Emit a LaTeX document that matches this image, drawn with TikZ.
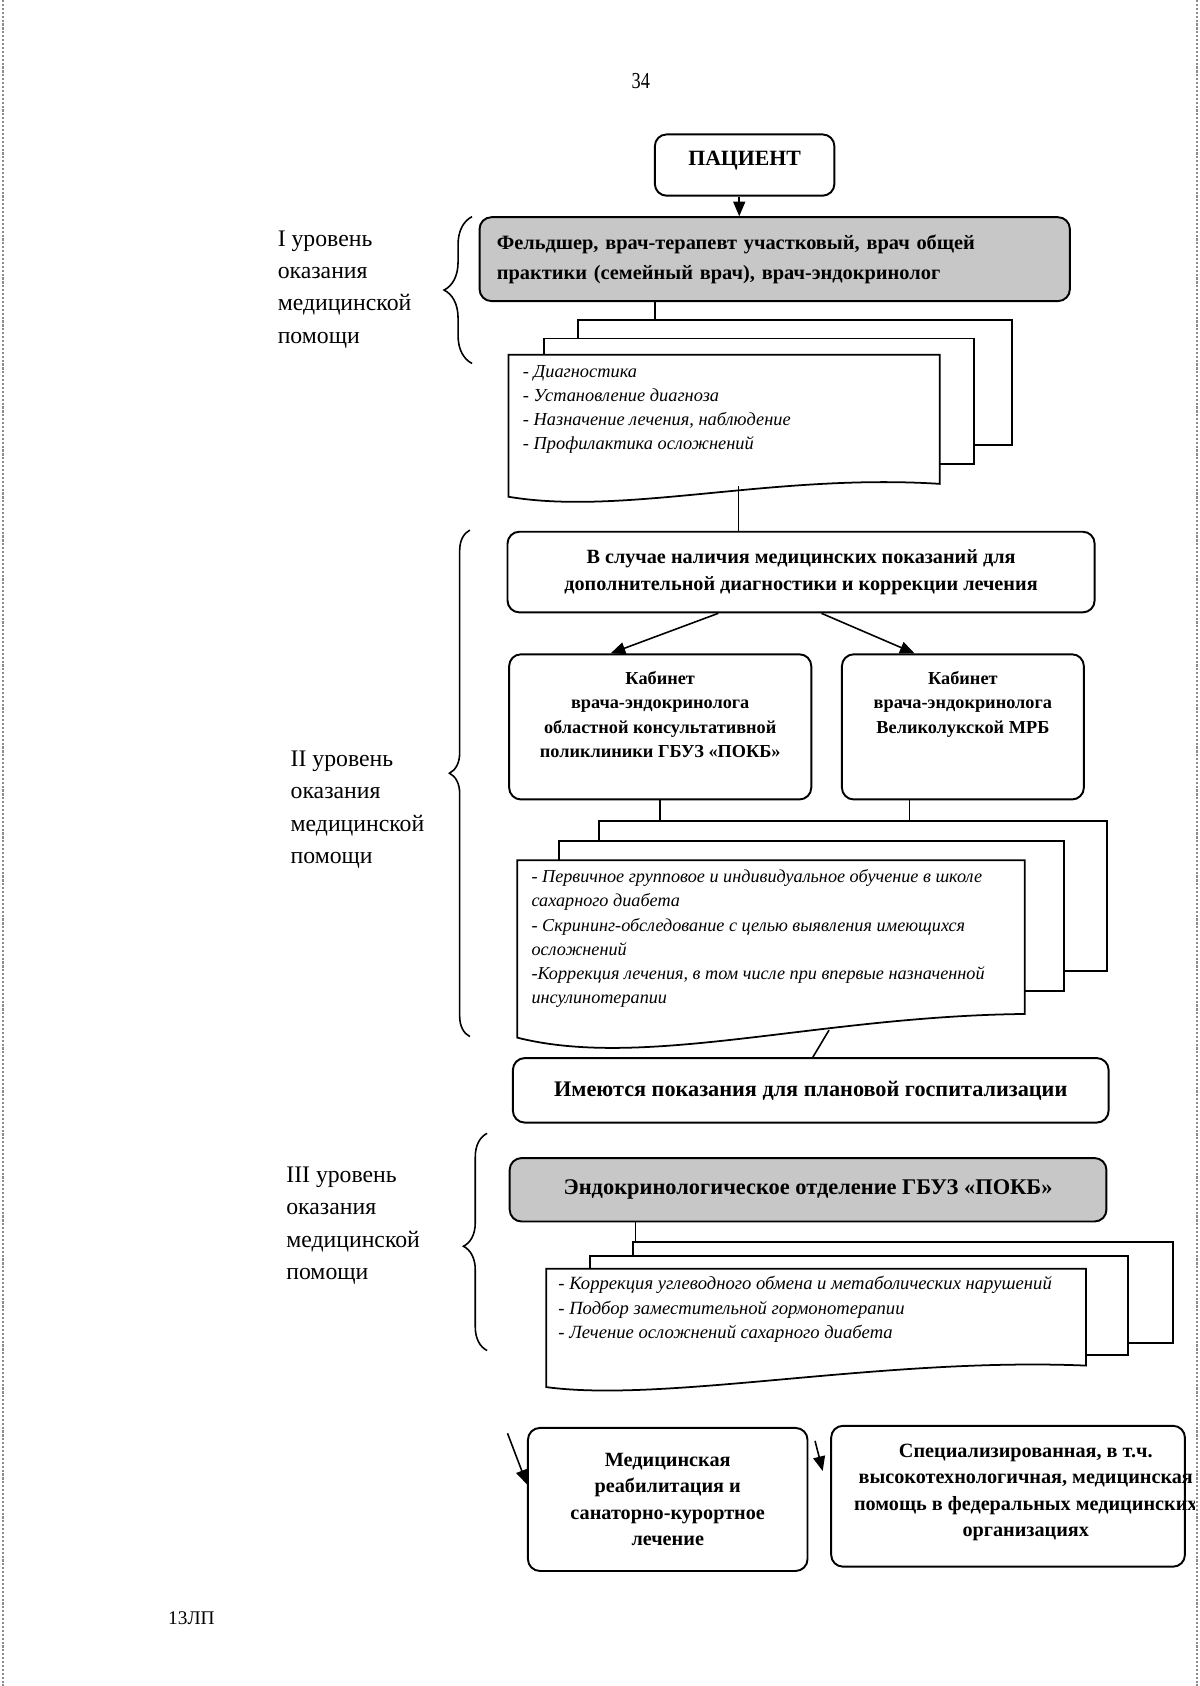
\documentclass[tikz,border=0pt]{standalone}
\usepackage{fontspec}
\setmainfont{Liberation Serif}
\usetikzlibrary{positioning}
\usetikzlibrary{arrows}
\usetikzlibrary{decorations.pathreplacing}
\colorlet{boxgray}{black!22}
\colorlet{scangray}{black!45}
\newlength{\pxu}
\setlength{\pxu}{0.0215cm}
\newcommand{\ftTitle}{\bfseries\fontsize{12.4}{16}\selectfont}
\newcommand{\ftGray}{\bfseries\fontsize{11.6}{17.1}\selectfont}
\newcommand{\ftBox}{\bfseries\fontsize{11.5}{15.3}\selectfont}
\newcommand{\ftKab}{\bfseries\fontsize{10.4}{13.9}\selectfont}
\newcommand{\ftHosp}{\bfseries\fontsize{12.65}{16}\selectfont}
\newcommand{\ftEndo}{\bfseries\fontsize{12.75}{16}\selectfont}
\newcommand{\ftBottom}{\bfseries\fontsize{11.5}{14.9}\selectfont}
\newcommand{\ftList}{\itshape\fontsize{10.45}{13.6}\selectfont}
\newcommand{\ftLevel}{\fontsize{13.5}{18.4}\selectfont}
\newcommand{\ftPage}{\fontsize{13}{15}\selectfont}
\newcommand{\ftFoot}{\fontsize{11}{13}\selectfont}
\tikzset{
  rbox/.style={draw, line width=1.1pt, rounded corners=11\pxu, shape=rectangle, align=center, inner sep=0pt},
  graybox/.style={rbox, fill=boxgray},
  sheet/.style={draw, line width=1pt, fill=white, shape=rectangle, anchor=north west, inner sep=0pt},
  listtext/.style={anchor=west, align=left, inner sep=0pt, font=\ftList},
  lvltext/.style={anchor=west, align=left, inner sep=0pt, font=\ftLevel},
  link/.style={line width=0.9pt},
  arr/.style={link, -triangle 45},
  bracel/.style={decorate, line width=0.9pt}
}

\begin{document}
\begin{tikzpicture}[x=0.0215cm, y=-0.0215cm]
\useasboundingbox (0,0) rectangle (1116,1568);
% scan edges
\draw[scangray, densely dotted, line width=2\pxu] (3,0) -- (3,1568);
\draw[scangray, densely dotted, line width=2\pxu] (1113,0) -- (1113,1568);

\node[font=\ftPage, xscale=0.8] (pagenum) at (596,75) {34};
\node[font=\ftFoot] (code) at (178,1505) {13ЛП};

% level I
\node[rbox, minimum width=167\pxu, minimum height=57\pxu, font=\ftTitle, text depth=7.5pt] (patient) at (692.5,153.5) {ПАЦИЕНТ};
\node[graybox, minimum width=549\pxu, minimum height=78\pxu, text width=517\pxu, align=left, inner xsep=16\pxu, font=\ftGray]
(grayI) at (720.5,241) {Фельдшер, врач-терапевт участковый, врач общей\\практики (семейный врач), врач-эндокринолог};
\coordinate (pin) at ([xshift=-5\pxu]patient.south);
\draw[arr] (pin) -- (pin |- grayI.north);

\node[sheet, minimum width=403\pxu, minimum height=116\pxu] (pageIc) at (537,297) {};
\node[sheet, minimum width=400\pxu, minimum height=117\pxu] (pageIb) at (505,314) {};
\draw[line width=1pt, fill=white] (473,330) -- (874,330) -- (874,450) .. controls (720,440) and (580,480) .. (473,462) -- cycle;
\node[listtext] (listI) at (486,381) {- Диагностика\\- Установление диагноза\\- Назначение лечения, наблюдение\\- Профилактика осложнений};
\coordinate (jI) at (609,0);
\draw[link] (grayI.south -| jI) -- (pageIc.north -| jI);

\node[lvltext] (lvlI) at (258,269) {I уровень\\оказания\\медицинской\\помощи};
\draw[bracel, decoration={brace, amplitude=26\pxu}] (439,338) -- (439,201.5);

% level II
\node[rbox, minimum width=546\pxu, minimum height=75\pxu, font=\ftBox] (boxII) at (745,532) {В случае наличия медицинских показаний для\\дополнительной диагностики и коррекции лечения};
\coordinate (outI) at (687,452);
\draw[link] (outI) -- (outI |- boxII.north);

\node[rbox, minimum width=281\pxu, minimum height=135\pxu, font=\ftKab] (kabL) at (614,676)
{Кабинет\\врача-эндокринолога\\областной консультативной\\поликлиники ГБУЗ «ПОКБ»\\\mbox{}};
\node[rbox, minimum width=225\pxu, minimum height=135\pxu, font=\ftKab] (kabR) at (895.5,676)
{Кабинет\\врача-эндокринолога\\Великолукской МРБ\\\mbox{}\\\mbox{}};
\draw[arr] ([xshift=-77\pxu]boxII.south) -- ([xshift=-46\pxu]kabL.north);
\draw[arr] ([xshift=19\pxu]boxII.south) -- ([xshift=-45\pxu]kabR.north);

\node[sheet, minimum width=473\pxu, minimum height=139\pxu] (pageIIc) at (556,763) {};
\node[sheet, minimum width=470\pxu, minimum height=140\pxu] (pageIIb) at (519,781) {};
\draw[line width=1pt, fill=white] (481,800) -- (953,800) -- (953,943) .. controls (760,945) and (600,995) .. (481,965) -- cycle;
\node[listtext, font=\itshape\fontsize{10.35}{13.8}\selectfont] (listII) at (494,873) {- Первичное групповое и индивидуальное обучение в школе\\сахарного диабета\\- Скрининг-обследование с целью выявления имеющихся\\осложнений\\-Коррекция лечения, в том числе при впервые назначенной\\инсулинотерапии};
\coordinate (jII) at (846,0);
\draw[link] (kabL.south) -- (kabL.south |- pageIIc.north);
\draw[link] (kabR.south -| jII) -- (pageIIc.north -| jII);

\node[rbox, minimum width=554\pxu, minimum height=60\pxu, font=\ftHosp] (hosp) at (754,1014) {Имеются показания для плановой госпитализации};
\coordinate (outII) at (771,958);
\draw[link] (outII) -- ([xshift=2\pxu]hosp.north);

\node[lvltext] (lvlII) at (270,753) {II уровень\\оказания\\медицинской\\помощи};
\draw[bracel, decoration={brace, amplitude=19\pxu, aspect=0.52}] (437,964) -- (437,493);

% level III
\node[graybox, minimum width=555\pxu, minimum height=59\pxu, font=\ftEndo] (grayIII) at (751.5,1106.5) {Эндокринологическое отделение ГБУЗ «ПОКБ»};

\node[sheet, minimum width=502\pxu, minimum height=94\pxu] (pageIIIc) at (588,1154) {};
\node[sheet, minimum width=500\pxu, minimum height=92\pxu] (pageIIIb) at (548,1167) {};
\draw[line width=1pt, fill=white] (508,1180) -- (1010,1180) -- (1010,1270) .. controls (820,1262) and (620,1305) .. (508,1290) -- cycle;
\node[listtext, font=\itshape\fontsize{10.6}{14}\selectfont] (listIII) at (519,1218) {- Коррекция углеводного обмена и метаболических нарушений\\- Подбор заместительной гормонотерапии\\- Лечение осложнений сахарного диабета};
\coordinate (jIII) at (591,0);
\draw[link] (grayIII.south -| jIII) -- (pageIIIc.north -| jIII);

\node[lvltext] (lvlIII) at (266,1140) {III уровень\\оказания\\медицинской\\помощи};
\draw[bracel, decoration={brace, amplitude=22\pxu, aspect=0.48}] (453,1256) -- (453,1054);

% outcomes
\node[rbox, minimum width=260\pxu, minimum height=133\pxu, font=\ftBottom] (rehab) at (621,1394.5) {Медицинская\\реабилитация и\\санаторно-курортное\\лечение};
\node[rbox, minimum width=329\pxu, minimum height=131\pxu] (spec) at (937.5,1391.5) {};
\begin{scope}
\clip (0,0) rectangle (1111,1568);
\node[font=\ftBottom, align=center] (specText) at (954,1388) {Специализированная, в т.ч.\\высокотехнологичная, медицинская\\помощь в федеральных медицинских\\организациях};
\end{scope}
\coordinate (fromL) at (472,1333);
\draw[arr] (fromL) -- ([yshift=14\pxu]rehab.west);
\coordinate (fromR) at (758,1340);
\draw[arr] (fromR) -- ([xshift=-7\pxu,yshift=23.5\pxu]spec.west);

\end{tikzpicture}
\end{document}
